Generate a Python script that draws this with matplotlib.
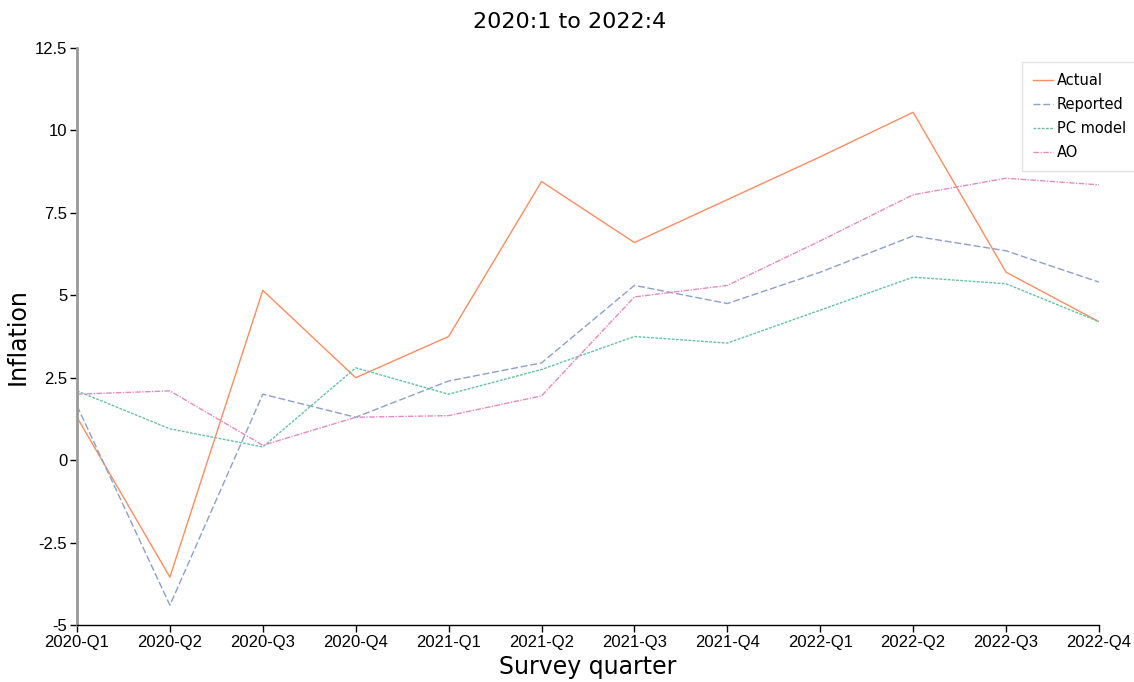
import matplotlib
matplotlib.use("Agg")
import matplotlib.pyplot as plt

quarters = ["2020-Q1", "2020-Q2", "2020-Q3", "2020-Q4", "2021-Q1", "2021-Q2",
            "2021-Q3", "2021-Q4", "2022-Q1", "2022-Q2", "2022-Q3", "2022-Q4"]
actual = [1.3, -3.55, 5.15, 2.5, 3.75, 8.45, 6.6, 7.9, 9.2, 10.55, 5.7, 4.2]
reported = [1.65, -4.4, 2.0, 1.3, 2.4, 2.95, 5.3, 4.75, 5.7, 6.8, 6.35, 5.4]
pc_model = [2.1, 0.95, 0.4, 2.8, 2.0, 2.75, 3.75, 3.55, 4.55, 5.55, 5.35, 4.2]
ao = [2.0, 2.1, 0.45, 1.3, 1.35, 1.95, 4.95, 5.3, 6.65, 8.05, 8.55, 8.35]
yticks = [-5, -2.5, 0, 2.5, 5, 7.5, 10, 12.5]
ytick_labels = ["-5", "-2.5", "0", "2.5", "5", "7.5", "10", "12.5"]

fig = plt.figure(figsize=(11.34, 6.82), dpi=100)
ax = fig.add_axes([0.0679, 0.0836, 0.9012, 0.846])
x = list(range(len(quarters)))
ax.plot(x, actual, color="#fc8d62", lw=1.0, ls="-", label="Actual")
ax.plot(x, reported, color="#8da0cb", lw=1.0, ls=(0, (5, 2)), label="Reported")
ax.plot(x, pc_model, color="#66c2a5", lw=1.0, ls=(0, (2, 1)), label="PC model")
ax.plot(x, ao, color="#e78ac3", lw=1.0, ls=(0, (4, 1, 1, 1)), label="AO")

ax.set_xlim(0, len(quarters) - 1)
ax.set_ylim(-5, 12.5)
ax.set_xticks(x)
ax.set_xticklabels(quarters, fontfamily="Liberation Sans", fontsize=12)
ax.set_yticks(yticks)
ax.set_yticklabels(ytick_labels, fontfamily="Liberation Sans", fontsize=12)
for s in ["top", "right"]:
    ax.spines[s].set_visible(False)
ax.spines["left"].set_color("#999999")
ax.spines["left"].set_linewidth(2)
ax.spines["bottom"].set_color("black")
ax.spines["bottom"].set_linewidth(1)
ax.tick_params(direction="out", length=5, width=1, pad=2)
ax.set_xlabel("Survey quarter", fontsize=17, labelpad=4)
ax.set_ylabel("Inflation", fontsize=17)
ax.yaxis.set_label_coords(-0.046, 0.5)
fig.text(0.5025, 1 - 22 / 682, "2020:1 to 2022:4", fontsize=16, ha="center", va="center")

leg = ax.legend(loc="upper left", bbox_to_anchor=(1022 / 1134, 1 - 62 / 682),
                bbox_transform=fig.transFigure, fontsize=10.5, frameon=True,
                fancybox=False, handlelength=1.4, borderpad=0.75, labelspacing=0.62,
                handletextpad=0.25, borderaxespad=0)
leg.get_frame().set_edgecolor("#dddddd")
leg.get_frame().set_linewidth(1)

fig.savefig("out.png", dpi=100)
